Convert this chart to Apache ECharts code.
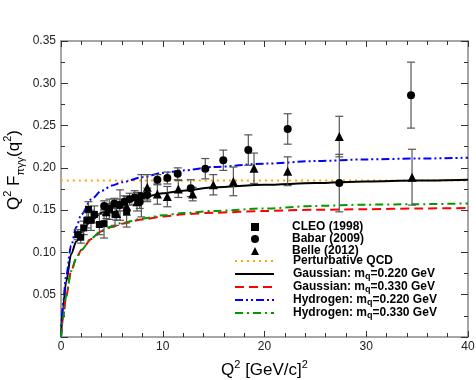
<!DOCTYPE html>
<html>
<head>
<meta charset="utf-8">
<script src="https://cdn.jsdelivr.net/npm/echarts@6/dist/echarts.min.js"></script>
<style>
  html, body { margin: 0; padding: 0; background: #fff; }
  #chart { width: 476px; height: 380px; }
</style>
</head>
<body>
<div id="chart"></div>
<script>
// CLEO (1998)
const cleoQ2 = [1.64, 1.94, 2.23, 2.54, 2.70, 2.95, 3.28, 3.77, 4.23, 4.75, 5.31, 5.80, 6.45, 7.90];
const cleoF = [0.121, 0.118, 0.129, 0.138, 0.151, 0.138, 0.145, 0.133, 0.134, 0.151, 0.145, 0.156, 0.148, 0.167];
const cleoErr = [0.006, 0.007, 0.008, 0.009, 0.009, 0.012, 0.010, 0.012, 0.017, 0.012, 0.013, 0.018, 0.018, 0.025];

// Babar (2009)
const babarQ2 = [4.24, 4.74, 5.24, 5.74, 6.24, 6.74, 7.24, 7.74, 8.48, 9.47, 10.45, 11.47, 12.75, 14.18, 15.95, 18.41, 22.28, 27.35, 34.4];
const babarF = [0.155, 0.152, 0.158, 0.156, 0.160, 0.163, 0.165, 0.160, 0.168, 0.186, 0.188, 0.193, 0.176, 0.199, 0.209, 0.221, 0.246, 0.182, 0.286];
const babarErr = [0.006, 0.006, 0.006, 0.007, 0.007, 0.007, 0.008, 0.008, 0.008, 0.006, 0.007, 0.007, 0.010, 0.012, 0.012, 0.018, 0.018, 0.034, 0.039];

// Belle (2012)
const belleQ2 = [4.46, 5.47, 6.47, 7.47, 8.48, 9.47, 10.45, 11.53, 12.94, 14.97, 16.94, 18.97, 22.28, 27.35, 34.5];
const belleF = [0.148, 0.146, 0.154, 0.160, 0.177, 0.169, 0.166, 0.175, 0.169, 0.180, 0.184, 0.1995, 0.196, 0.237, 0.189];
const belleErr = [0.008, 0.008, 0.010, 0.011, 0.015, 0.012, 0.012, 0.010, 0.008, 0.012, 0.017, 0.018, 0.017, 0.024, 0.033];

// model curves
const curveQ2 = [0, 0.2, 0.5, 1, 1.5, 2, 3, 4, 5, 6, 8, 10, 12, 15, 20, 25, 30, 35, 40];
const gauss220 = [0, 0.035, 0.065, 0.098, 0.113, 0.124, 0.138, 0.147, 0.153, 0.158, 0.165, 0.170, 0.173, 0.177, 0.180, 0.182, 0.184, 0.185, 0.186];
const gauss330 = [0, 0.022, 0.048, 0.078, 0.093, 0.103, 0.116, 0.125, 0.130, 0.134, 0.139, 0.1425, 0.145, 0.147, 0.149, 0.1505, 0.151, 0.152, 0.1525];
const hydro220 = [0, 0.040, 0.072, 0.108, 0.130, 0.145, 0.163, 0.173, 0.179, 0.183, 0.189, 0.194, 0.197, 0.201, 0.205, 0.208, 0.210, 0.211, 0.212];
const hydro330 = [0, 0.022, 0.048, 0.078, 0.093, 0.103, 0.117, 0.126, 0.131, 0.135, 0.140, 0.144, 0.1465, 0.149, 0.152, 0.155, 0.1565, 0.157, 0.158];
const pqcdQ2 = [0, 40];
const pqcdF = [0.185, 0.185];

const FONT = 'Liberation Sans';

function pairs(xs, ys) {
  return xs.map((x, i) => [x, ys[i]]);
}

function errorBars(xs, ys, es) {
  return {
    type: 'custom',
    silent: true,
    z: 3,
    data: xs.map((x, i) => [x, ys[i] - es[i], ys[i] + es[i]]),
    encode: { x: 0, y: [1, 2] },
    renderItem: (params, api) => {
      const lo = api.coord([api.value(0), api.value(1)]);
      const hi = api.coord([api.value(0), api.value(2)]);
      const w = 4;
      const st = { stroke: '#555', lineWidth: 1.2 };
      return {
        type: 'group',
        children: [
          { type: 'line', shape: { x1: lo[0], y1: lo[1], x2: hi[0], y2: hi[1] }, style: st },
          { type: 'line', shape: { x1: lo[0] - w, y1: lo[1], x2: lo[0] + w, y2: lo[1] }, style: st },
          { type: 'line', shape: { x1: hi[0] - w, y1: hi[1], x2: hi[0] + w, y2: hi[1] }, style: st }
        ]
      };
    }
  };
}

function curve(name, xs, ys, color, type) {
  return {
    name, type: 'line', data: pairs(xs, ys),
    symbol: 'none', showSymbol: false, smooth: 0.3, smoothMonotone: 'x', z: 2,
    lineStyle: { color, width: 2, type },
    itemStyle: { color }
  };
}

function scatter(name, xs, ys, symbol, size) {
  return {
    name, type: 'scatter', data: pairs(xs, ys),
    symbol, symbolSize: size, z: 4,
    itemStyle: { color: '#000', opacity: 1 }
  };
}

const axisLine = { show: true, onZero: false, lineStyle: { color: '#888', width: 1.5 } };
const tickStyle = { color: '#333', width: 1 };

const subFmt = name => name.replace('m_q', 'm{sub|q}');

const chart = echarts.init(document.getElementById('chart'));
chart.setOption({
  animation: false,
  backgroundColor: '#fff',
  grid: { left: 61, right: 8, top: 41, bottom: 43, outerBoundsMode: 'none' },
  xAxis: [{
    type: 'value', min: 0, max: 40, interval: 10,
    axisLine, splitLine: { show: false },
    axisTick: { inside: true, length: 6, lineStyle: tickStyle },
    minorTick: { show: true, splitNumber: 5, length: 4, lineStyle: tickStyle },
    axisLabel: { color: '#222', fontSize: 12, fontFamily: FONT, margin: 4 },
    name: '{m|Q}{sup|2}{m| [GeV/c]}{sup|2}',
    nameLocation: 'middle', nameGap: 22,
    nameTextStyle: {
      rich: {
        m: { fontSize: 17, fontFamily: FONT, color: '#000', lineHeight: 22 },
        sup: { fontSize: 11, fontFamily: FONT, color: '#000', lineHeight: 11, verticalAlign: 'top' }
      }
    }
  }, {
    type: 'value', min: 0, max: 40, interval: 10, position: 'top',
    axisLine, splitLine: { show: false }, axisLabel: { show: false },
    axisTick: { inside: true, length: 6, lineStyle: tickStyle },
    minorTick: { show: true, splitNumber: 5, length: 4, lineStyle: tickStyle }
  }],
  yAxis: [{
    type: 'value', min: 0, max: 0.35, interval: 0.05,
    axisLine, splitLine: { show: false },
    axisTick: { inside: true, length: 7, lineStyle: tickStyle },
    minorTick: { show: true, splitNumber: 2, length: 4, lineStyle: tickStyle },
    axisLabel: {
      color: '#222', fontSize: 12, fontFamily: FONT, margin: 5,
      formatter: v => (v === 0 ? '' : v.toFixed(2))
    }
  }, {
    type: 'value', min: 0, max: 0.35, interval: 0.05, position: 'right',
    axisLine, splitLine: { show: false }, axisLabel: { show: false },
    axisTick: { inside: true, length: 7, lineStyle: tickStyle },
    minorTick: { show: true, splitNumber: 2, length: 4, lineStyle: tickStyle }
  }],
  legend: [{
    data: ['CLEO (1998)', 'Babar (2009)', 'Belle (2012)'],
    orient: 'vertical', left: 246, top: 216,
    itemWidth: 8, itemHeight: 8, itemGap: 0,
    textStyle: { fontSize: 12, fontWeight: 'bold', fontFamily: FONT, color: '#000', lineHeight: 12, padding: [0, 0, 0, 28] }
  }, {
    data: ['Perturbative QCD', 'Gaussian: m_q=0.220 GeV', 'Gaussian: m_q=0.330 GeV',
      'Hydrogen: m_q=0.220 GeV', 'Hydrogen: m_q=0.330 GeV'],
    orient: 'vertical', left: 229, top: 249,
    itemWidth: 39, itemHeight: 8, itemGap: -1,
    itemStyle: { opacity: 0 },
    formatter: subFmt,
    textStyle: {
      fontSize: 12, fontWeight: 'bold', fontFamily: FONT, color: '#000', lineHeight: 14, padding: [0, 0, 0, 14],
      rich: { sub: { fontSize: 9, fontWeight: 'bold', fontFamily: FONT, color: '#000', lineHeight: 8, verticalAlign: 'bottom' } }
    }
  }],
  graphic: [{
    type: 'text', x: 14, y: 170, rotation: Math.PI / 2,
    style: {
      text: '{m|Q}{sup|2}{m| F}{sub|πγγ}{m|(q}{sup|2}{m|)}',
      align: 'center', verticalAlign: 'middle',
      rich: {
        m: { fontSize: 17, fontFamily: FONT, fill: '#000', lineHeight: 24 },
        sup: { fontSize: 11, fontFamily: FONT, fill: '#000', lineHeight: 11, verticalAlign: 'top' },
        sub: { fontSize: 11, fontFamily: FONT, fill: '#000', lineHeight: 11, verticalAlign: 'bottom' }
      }
    }
  }],
  series: [
    curve('Perturbative QCD', pqcdQ2, pqcdF, '#ffa500', [2, 4]),
    curve('Gaussian: m_q=0.220 GeV', curveQ2, gauss220, '#000', 'solid'),
    curve('Gaussian: m_q=0.330 GeV', curveQ2, gauss330, '#ff0000', [9, 5]),
    curve('Hydrogen: m_q=0.220 GeV', curveQ2, hydro220, '#0000ff', [8, 3, 2, 3, 2, 3]),
    curve('Hydrogen: m_q=0.330 GeV', curveQ2, hydro330, '#009900', [8, 4, 2, 4]),
    errorBars(cleoQ2, cleoF, cleoErr),
    errorBars(babarQ2, babarF, babarErr),
    errorBars(belleQ2, belleF, belleErr),
    scatter('CLEO (1998)', cleoQ2, cleoF, 'rect', 7),
    scatter('Babar (2009)', babarQ2, babarF, 'circle', 8),
    scatter('Belle (2012)', belleQ2, belleF, 'triangle', 9)
  ]
});
</script>
</body>
</html>
